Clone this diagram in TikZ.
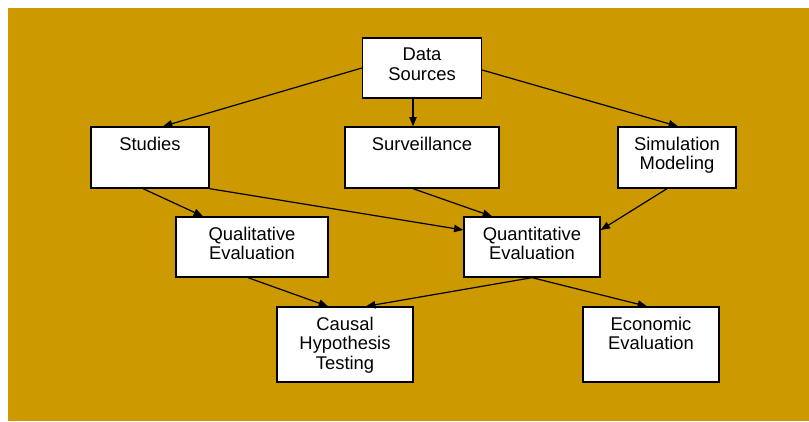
\documentclass[tikz,border=0pt]{standalone}
\usepackage{fontspec}
\setmainfont{Liberation Sans}
\usetikzlibrary{calc,arrows.meta}
\tikzset{every picture/.style={line width=0.75pt}}
\definecolor{gold}{RGB}{204,153,0}

\begin{document}
\begin{tikzpicture}[x=0.75pt,y=0.75pt,yscale=-1,xscale=1,
	box/.style={draw, fill=white, line width=1pt, inner sep=0pt},
	lbl/.style={anchor=north, align=center, inner sep=0pt, font=\fontsize{13.8}{14.8}\selectfont},
	arr/.style={-{Triangle[length=7pt,width=5.5pt]}, line width=0.9pt}]
		\useasboundingbox (0,0) rectangle (809,421);
		%Shape: Rectangle [background]
		\fill [gold] (8,8) rectangle (809,421);
		
		%Shape: Rectangle [boxes]
		\node [box, minimum width=89.25pt, minimum height=45pt] (src) at (422,68) {};
		\node [box, minimum width=88.5pt, minimum height=45.75pt] (stud) at (150,157.5) {};
		\node [box, minimum width=115.5pt, minimum height=45.75pt] (surv) at (422,157.5) {};
		\node [box, minimum width=88.5pt, minimum height=45.75pt] (simu) at (677,157.5) {};
		\node [box, minimum width=114pt, minimum height=45pt] (qual) at (252,247) {};
		\node [box, minimum width=102pt, minimum height=45pt] (quan) at (532,247) {};
		\node [box, minimum width=102pt, minimum height=56.25pt] (caus) at (345,344.5) {};
		\node [box, minimum width=102pt, minimum height=56.25pt] (econ) at (651,344.5) {};
		
		% Text Node
		\node [lbl] (srcT) at ($(src.north)+(0,10)$) {Data\\Sources};
		% Text Node
		\node [lbl] (studT) at ($(stud.north)+(0,10)$) {Studies};
		% Text Node
		\node [lbl] (survT) at ($(surv.north)+(0,10)$) {Surveillance};
		% Text Node
		\node [lbl] (simuT) at ($(simu.north)+(0,10)$) {Simulation\\Modeling};
		% Text Node
		\node [lbl] (qualT) at ($(qual.north)+(0,10)$) {Qualitative\\Evaluation};
		% Text Node
		\node [lbl] (quanT) at ($(quan.north)+(0,10)$) {Quantitative\\Evaluation};
		% Text Node
		\node [lbl] (causT) at ($(caus.north)+(0,10)$) {Causal\\Hypothesis\\Testing};
		% Text Node
		\node [lbl] (econT) at ($(econ.north)+(0,10)$) {Economic\\Evaluation};
		
		%Straight Lines [arrows]
		\draw [arr] (src.west) -- ($(stud.north)+(13,0)$);
		\draw [arr] ($(src.south)+(-9,0)$) -- ($(surv.north)+(-9,0)$);
		\draw [arr] ($(src.east)+(0,2)$) -- ($(simu.north)+(1,0)$);
		\draw [arr] ($(stud.south)+(-7,0)$) -- ($(qual.north)+(-49,0)$);
		\draw [arr] (stud.south east) -- ($(quan.west)+(0,-17)$);
		\draw [arr] ($(surv.south)+(-9,0)$) -- ($(quan.north)+(-40,0)$);
		\draw [arr] ($(simu.south)+(-10,0)$) -- ($(quan.east)+(0,-17)$);
		\draw [arr] ($(qual.south)+(-4,0)$) -- ($(caus.north)+(-17,0)$);
		\draw [arr] (quan.south) -- ($(caus.north)+(21,0)$);
		\draw [arr] (quan.south) -- ($(econ.north)+(-4,0)$);
		
	\end{tikzpicture}
\end{document}
